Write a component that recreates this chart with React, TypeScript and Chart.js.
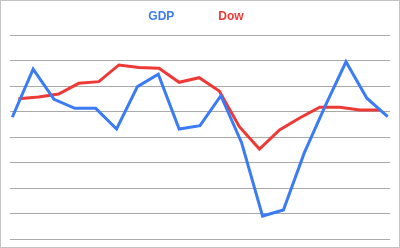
import React, { useEffect, useRef } from "react";
import { Chart, registerables } from "chart.js";

Chart.register(...registerables);

// Quarter index (19 periods) and values
const periods: number[] = [0, 1, 2, 3, 4, 5, 6, 7, 8, 9, 10, 11, 12, 13, 14, 15, 16, 17, 18];
const gdpValues: number[] = [1.55, 5.33, 2.96, 2.25, 2.25, 0.63, 3.95, 4.92, 0.63, 0.89, 3.24, -0.47, -6.2, -5.73, -1.25, 2.43, 5.9, 3.04, 1.6];
const dowValues: number[] = [3.0, 3.14, 3.37, 4.21, 4.34, 5.65, 5.45, 5.39, 4.29, 4.65, 3.61, 0.81, -0.94, 0.55, 1.49, 2.33, 2.33, 2.12, 2.12];
const seriesNames: string[] = ["GDP", "Dow"];
const seriesColors: string[] = ["#3b7bf6", "#ee3a36"];
const yTicks: number[] = [-8, -6, -4, -2, 0, 2, 4, 6, 8];

const textLegend = {
  id: "textLegend",
  afterDraw(chart: any) {
    const ctx = chart.ctx;
    const area = chart.chartArea;
    ctx.save();
    ctx.font = "bold 12px 'Liberation Sans', Arial, sans-serif";
    ctx.textBaseline = "middle";
    ctx.textAlign = "left";
    const gap = 44;
    const items = chart.data.datasets.map((d: any) => ({
      text: d.label,
      color: d.borderColor,
      w: ctx.measureText(d.label).width,
    }));
    const total = items.reduce((s: number, it: any) => s + it.w, 0) + gap * (items.length - 1);
    let x = (area.left + area.right) / 2 - 4 - total / 2;
    const y = 15.7;
    items.forEach((it: any) => {
      ctx.fillStyle = it.color;
      ctx.fillText(it.text, x, y);
      x += it.w + gap;
    });
    ctx.restore();
  },
};

export default function App() {
  const ref = useRef<HTMLCanvasElement | null>(null);

  useEffect(() => {
    document.body.style.margin = "0";
    if (!ref.current) return;
    const chart = new Chart(ref.current, {
      type: "line",
      data: {
        datasets: [
          {
            label: seriesNames[0],
            data: periods.map((p, i) => ({ x: p, y: gdpValues[i] })),
            borderColor: seriesColors[0],
            backgroundColor: seriesColors[0],
            borderWidth: 3,
            pointRadius: 0,
            tension: 0,
            xAxisID: "x",
          },
          {
            label: seriesNames[1],
            data: periods.map((p, i) => ({ x: p, y: dowValues[i] })),
            borderColor: seriesColors[1],
            backgroundColor: seriesColors[1],
            borderWidth: 3,
            pointRadius: 0,
            tension: 0,
            xAxisID: "x2",
          },
        ],
      },
      options: {
        animation: false,
        responsive: false,
        layout: { padding: { left: 9, right: 9, top: 34, bottom: 8 } },
        plugins: {
          legend: { display: false },
          tooltip: { enabled: false },
        },
        scales: {
          x: { type: "linear", display: false, min: -0.11, max: 18.11 },
          x2: { type: "linear", display: false, min: -0.42, max: 18.5 },
          y: {
            type: "linear",
            min: yTicks[0],
            max: yTicks[yTicks.length - 1],
            afterBuildTicks: (scale: any) => {
              scale.ticks = yTicks.map((v) => ({ value: v }));
            },
            ticks: { display: false },
            border: { display: false },
            grid: { color: "#a9a9a9", lineWidth: 1, drawTicks: false },
          },
        },
      },
      plugins: [textLegend],
    });
    return () => chart.destroy();
  }, []);

  return (
    <div
      style={{
        width: 400,
        height: 248,
        boxSizing: "border-box",
        border: "1px solid #c4c4c4",
        background: "#fff",
      }}
    >
      <canvas ref={ref} width={398} height={246} style={{ display: "block" }} />
    </div>
  );
}
